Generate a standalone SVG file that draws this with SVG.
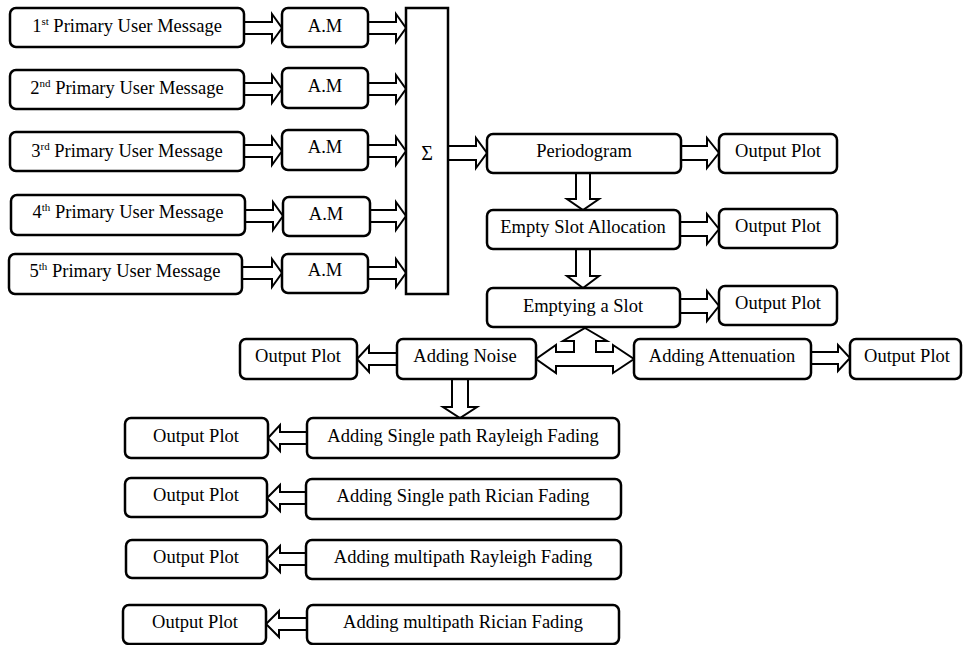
<svg xmlns="http://www.w3.org/2000/svg" width="963" height="645" viewBox="0 0 963 645" font-family="'Liberation Serif', 'Times New Roman', 'DejaVu Serif', serif">
<style>
.b{fill:#fff;stroke:#000;stroke-width:2.5}
.a{fill:#fff;stroke:#000;stroke-width:2;stroke-linejoin:miter}
.t{font-family:'Liberation Serif','Times New Roman','DejaVu Serif',serif;font-size:18.5px;fill:#000;text-anchor:middle}
.sup{font-size:11px}
</style>
<rect width="963" height="645" fill="#fff"/>
<g id="connectors">
<polygon class="a" points="244,22 272,22 272,14 282,28 272,42 272,34 244,34"/>
<polygon class="a" points="244,83 272,83 272,75 282,89 272,103 272,95 244,95"/>
<polygon class="a" points="244,145 272,145 272,137 282,151 272,165 272,157 244,157"/>
<polygon class="a" points="245,210 273,210 273,202 283,216 273,230 273,222 245,222"/>
<polygon class="a" points="242,267 272,267 272,259 282,273 272,287 272,279 242,279"/>
<polygon class="a" points="368,22 396,22 396,14 406,28 396,42 396,34 368,34"/>
<polygon class="a" points="368,83 396,83 396,75 406,89 396,103 396,95 368,95"/>
<polygon class="a" points="368,145 396,145 396,137 406,151 396,165 396,157 368,157"/>
<polygon class="a" points="370,210 396,210 396,202 406,216 396,230 396,222 370,222"/>
<polygon class="a" points="368,267 396,267 396,259 406,273 396,287 396,279 368,279"/>
<polygon class="a" points="448,146 476,146 476,138 487,153 476,168 476,160 448,160"/>
<polygon class="a" points="681,146 707,146 707,138 719,153 707,168 707,160 681,160"/>
<polygon class="a" points="680,222 707,222 707,214 719,229 707,244 707,236 680,236"/>
<polygon class="a" points="680,299 707,299 707,291 719,306 707,321 707,313 680,313"/>
<polygon class="a" points="576,173 590,173 590,199 599,199 583,210 567,199 576,199"/>
<polygon class="a" points="576,249 590,249 590,276 599,276 583,288 567,276 576,276"/>
<polygon class="a" points="585,328 607,341 596,341 596,352 613,352 613,345 634,359 613,373 613,366 556,366 556,373 536,359 556,345 556,352 574,352 574,341 563,341"/>
<polygon class="a" points="397,353 369,353 369,346 357,359 369,372 369,365 397,365"/>
<polygon class="a" points="811,352 838,352 838,345 850,358 838,371 838,364 811,364"/>
<polygon class="a" points="452,379 468,379 468,407 477,407 460,418 443,407 452,407"/>
<polygon class="a" points="307,432 280,432 280,425 268,438 280,451 280,444 307,444"/>
<polygon class="a" points="306,492 280,492 280,485 267,498 280,511 280,504 306,504"/>
<polygon class="a" points="306,553 280,553 280,546 267,559 280,572 280,565 306,565"/>
<polygon class="a" points="307,618 279,618 279,611 266,624 279,637 279,630 307,630"/>
</g>
<g id="m1"><rect class="b" x="10" y="8" width="234" height="39" rx="6"/><text class="t" x="127" y="32">1<tspan class="sup" dy="-7">st</tspan><tspan dy="7"> Primary User Message</tspan></text></g>
<g id="m2"><rect class="b" x="10" y="70" width="234" height="39" rx="6"/><text class="t" x="127" y="94">2<tspan class="sup" dy="-7">nd</tspan><tspan dy="7"> Primary User Message</tspan></text></g>
<g id="m3"><rect class="b" x="10" y="132" width="234" height="39" rx="6"/><text class="t" x="127" y="157">3<tspan class="sup" dy="-7">rd</tspan><tspan dy="7"> Primary User Message</tspan></text></g>
<g id="m4"><rect class="b" x="11" y="195" width="234" height="40" rx="6"/><text class="t" x="128" y="218">4<tspan class="sup" dy="-7">th</tspan><tspan dy="7"> Primary User Message</tspan></text></g>
<g id="m5"><rect class="b" x="9" y="254" width="233" height="40" rx="6"/><text class="t" x="125" y="277">5<tspan class="sup" dy="-7">th</tspan><tspan dy="7"> Primary User Message</tspan></text></g>
<g id="am1"><rect class="b" x="282" y="8" width="86" height="39" rx="6"/><text class="t" x="325" y="32">A.M</text></g>
<g id="am2"><rect class="b" x="282" y="68" width="86" height="40" rx="6"/><text class="t" x="325" y="92">A.M</text></g>
<g id="am3"><rect class="b" x="282" y="130" width="86" height="40" rx="6"/><text class="t" x="325" y="153">A.M</text></g>
<g id="am4"><rect class="b" x="283" y="197" width="87" height="39" rx="6"/><text class="t" x="326" y="220">A.M</text></g>
<g id="am5"><rect class="b" x="282" y="254" width="86" height="39" rx="6"/><text class="t" x="325" y="276">A.M</text></g>
<g id="sigma"><rect class="b" x="406" y="8" width="42" height="286"/><text class="t" x="427" y="160" style="font-size:20px">Σ</text></g>
<g id="periodogram"><rect class="b" x="487" y="134" width="194" height="39" rx="6"/><text class="t" x="584" y="157">Periodogram</text></g>
<g id="op1"><rect class="b" x="719" y="134" width="118" height="39" rx="6"/><text class="t" x="778" y="157">Output Plot</text></g>
<g id="esa"><rect class="b" x="487" y="210" width="193" height="39" rx="6"/><text class="t" x="583" y="233">Empty Slot Allocation</text></g>
<g id="op2"><rect class="b" x="719" y="209" width="118" height="39" rx="6"/><text class="t" x="778" y="232">Output Plot</text></g>
<g id="eas"><rect class="b" x="487" y="288" width="193" height="39" rx="6"/><text class="t" x="583" y="312">Emptying a Slot</text></g>
<g id="op3"><rect class="b" x="719" y="286" width="118" height="39" rx="6"/><text class="t" x="778" y="309">Output Plot</text></g>
<g id="opn"><rect class="b" x="240" y="339" width="117" height="40" rx="6"/><text class="t" x="298" y="362">Output Plot</text></g>
<g id="noise"><rect class="b" x="397" y="339" width="139" height="40" rx="6"/><text class="t" x="465" y="362">Adding Noise</text></g>
<g id="att"><rect class="b" x="634" y="339" width="177" height="40" rx="6"/><text class="t" x="722" y="362">Adding Attenuation</text></g>
<g id="opa"><rect class="b" x="850" y="339" width="111" height="40" rx="6"/><text class="t" x="907" y="362">Output Plot</text></g>
<g id="ray1"><rect class="b" x="307" y="418" width="312" height="40" rx="6"/><text class="t" x="463" y="442">Adding Single path Rayleigh Fading</text></g>
<g id="opr1"><rect class="b" x="125" y="418" width="143" height="40" rx="6"/><text class="t" x="196" y="442">Output Plot</text></g>
<g id="ric1"><rect class="b" x="306" y="479" width="315" height="40" rx="6"/><text class="t" x="463" y="502">Adding Single path Rician Fading</text></g>
<g id="opr2"><rect class="b" x="125" y="478" width="142" height="39" rx="6"/><text class="t" x="196" y="501">Output Plot</text></g>
<g id="ray2"><rect class="b" x="306" y="540" width="315" height="39" rx="6"/><text class="t" x="463" y="563">Adding multipath Rayleigh Fading</text></g>
<g id="opr3"><rect class="b" x="126" y="540" width="141" height="38" rx="6"/><text class="t" x="196" y="563">Output Plot</text></g>
<g id="ric2"><rect class="b" x="307" y="605" width="312" height="39" rx="6"/><text class="t" x="463" y="628">Adding multipath Rician Fading</text></g>
<g id="opr4"><rect class="b" x="123" y="605" width="143" height="39" rx="6"/><text class="t" x="195" y="628">Output Plot</text></g>
</svg>
